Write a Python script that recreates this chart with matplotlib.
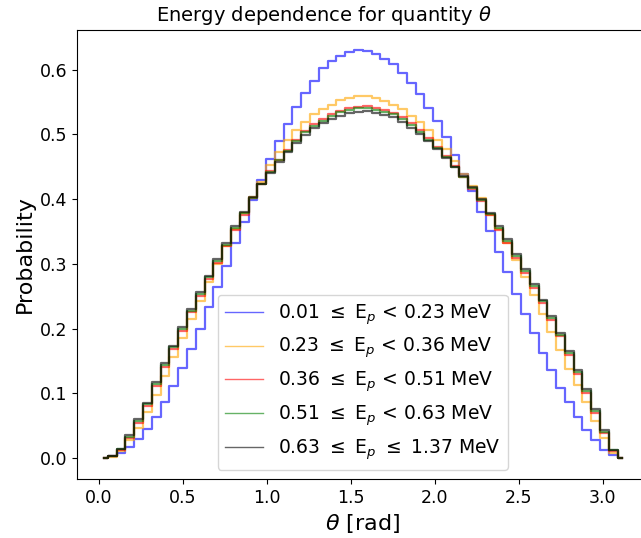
import numpy as np
import matplotlib
matplotlib.use("Agg")
import matplotlib.pyplot as plt
from matplotlib.lines import Line2D

# 60 bins of theta over [0, pi]
n_bins = 60
theta_edges = np.linspace(0, np.pi, n_bins + 1)
theta_centers = 0.5 * (theta_edges[:-1] + theta_edges[1:])

energy_edges = ["0.01", "0.23", "0.36", "0.51", "0.63", "1.37"]
colors = ["blue", "orange", "red", "green", "black"]

prob_e1 = [0.001, 0.003, 0.008, 0.0175, 0.030, 0.045, 0.064, 0.087, 0.112, 0.140,
           0.168, 0.200, 0.233, 0.265, 0.297, 0.332, 0.365, 0.399, 0.430, 0.462,
           0.490, 0.516, 0.542, 0.564, 0.583, 0.602, 0.613, 0.621, 0.627, 0.630,
           0.629, 0.6245, 0.617, 0.609, 0.595, 0.579, 0.563, 0.541, 0.520, 0.496,
           0.468, 0.439, 0.412, 0.380, 0.351, 0.318, 0.2875, 0.254, 0.223, 0.193,
           0.163, 0.136, 0.109, 0.087, 0.064, 0.044, 0.028, 0.0134, 0.005, 0.001]

prob_e2 = [0.0005, 0.002, 0.0113, 0.0288, 0.047, 0.0715, 0.098, 0.127, 0.156, 0.185,
           0.2145, 0.243, 0.272, 0.300, 0.327, 0.3545, 0.378, 0.403, 0.4265, 0.452,
           0.4727, 0.4907, 0.507, 0.519, 0.531, 0.5396, 0.546, 0.5525, 0.556, 0.5586,
           0.5586, 0.556, 0.5514, 0.546, 0.5386, 0.5278, 0.519, 0.507, 0.4907, 0.477,
           0.459, 0.439, 0.421, 0.401, 0.376, 0.3545, 0.332, 0.3066, 0.280, 0.2515,
           0.223, 0.195, 0.1677, 0.138, 0.1127, 0.087, 0.0576, 0.032, 0.008, 0.001]

prob_e3 = [0.0005, 0.003, 0.013, 0.031, 0.054, 0.080, 0.112, 0.141, 0.168, 0.197,
           0.225, 0.251, 0.276, 0.302, 0.327, 0.353, 0.376, 0.401, 0.423, 0.443,
           0.461, 0.476, 0.491, 0.505, 0.516, 0.524, 0.531, 0.536, 0.540, 0.5425,
           0.543, 0.5405, 0.537, 0.533, 0.526, 0.517, 0.506, 0.494, 0.481, 0.467,
           0.451, 0.434, 0.416, 0.397, 0.375, 0.353, 0.333, 0.309, 0.286, 0.2625,
           0.239, 0.2136, 0.188, 0.1596, 0.130, 0.101, 0.0706, 0.039, 0.011, 0.001]

prob_e4 = [0.0005, 0.003, 0.014, 0.033, 0.057, 0.083, 0.115, 0.144, 0.171, 0.200,
           0.228, 0.254, 0.279, 0.305, 0.329, 0.355, 0.378, 0.402, 0.423, 0.442,
           0.460, 0.475, 0.489, 0.503, 0.513, 0.521, 0.528, 0.534, 0.538, 0.540,
           0.5405, 0.538, 0.535, 0.531, 0.524, 0.515, 0.504, 0.492, 0.479, 0.465,
           0.450, 0.434, 0.417, 0.398, 0.377, 0.356, 0.336, 0.312, 0.289, 0.2655,
           0.242, 0.2166, 0.191, 0.1626, 0.133, 0.104, 0.073, 0.041, 0.012, 0.001]

prob_e5 = [0.0005, 0.003, 0.015, 0.0355, 0.060, 0.086, 0.118, 0.147, 0.174, 0.203,
           0.231, 0.257, 0.282, 0.308, 0.332, 0.358, 0.380, 0.403, 0.423, 0.441,
           0.458, 0.472, 0.486, 0.499, 0.509, 0.517, 0.524, 0.529, 0.533, 0.535,
           0.5355, 0.533, 0.530, 0.526, 0.519, 0.510, 0.500, 0.489, 0.477, 0.464,
           0.450, 0.435, 0.418, 0.400, 0.379, 0.358, 0.339, 0.315, 0.292, 0.2685,
           0.245, 0.2196, 0.194, 0.1656, 0.136, 0.1065, 0.0756, 0.043, 0.0134, 0.001]

series = [prob_e1, prob_e2, prob_e3, prob_e4, prob_e5]


def make_label(i):
    lo, hi = energy_edges[i], energy_edges[i + 1]
    upper = r"$\leq$" if i == len(series) - 1 else "<"
    return f"{lo} $\\leq$ E$_p$ {upper} {hi} MeV"


fig = plt.figure(figsize=(6.41, 5.38), dpi=100)
ax = fig.add_axes([0.1206, 0.1097, 0.8903, 0.8345])

handles = []
for i, (vals, col) in enumerate(zip(series, colors)):
    ax.step(theta_centers, vals, where="mid", color=col, alpha=0.6, lw=1.6)
    handles.append(Line2D([], [], color=col, alpha=0.6, lw=1.0, label=make_label(i)))

ax.set_xlim(-0.13, 3.27)
ax.set_ylim(-0.032, 0.661)
ax.set_xticks([0.0, 0.5, 1.0, 1.5, 2.0, 2.5, 3.0])
ax.tick_params(labelsize=12.5)
ax.set_xlabel(r"$\theta$ [rad]", fontsize=16)
ax.set_ylabel("Probability", fontsize=16)
fig.suptitle(r"Energy dependence for quantity $\theta$", x=0.505, y=0.992,
             va="top", fontsize=14)

ax.legend(handles=handles, loc="lower center", fontsize=13.5)

fig.savefig("out.png", dpi=100)
